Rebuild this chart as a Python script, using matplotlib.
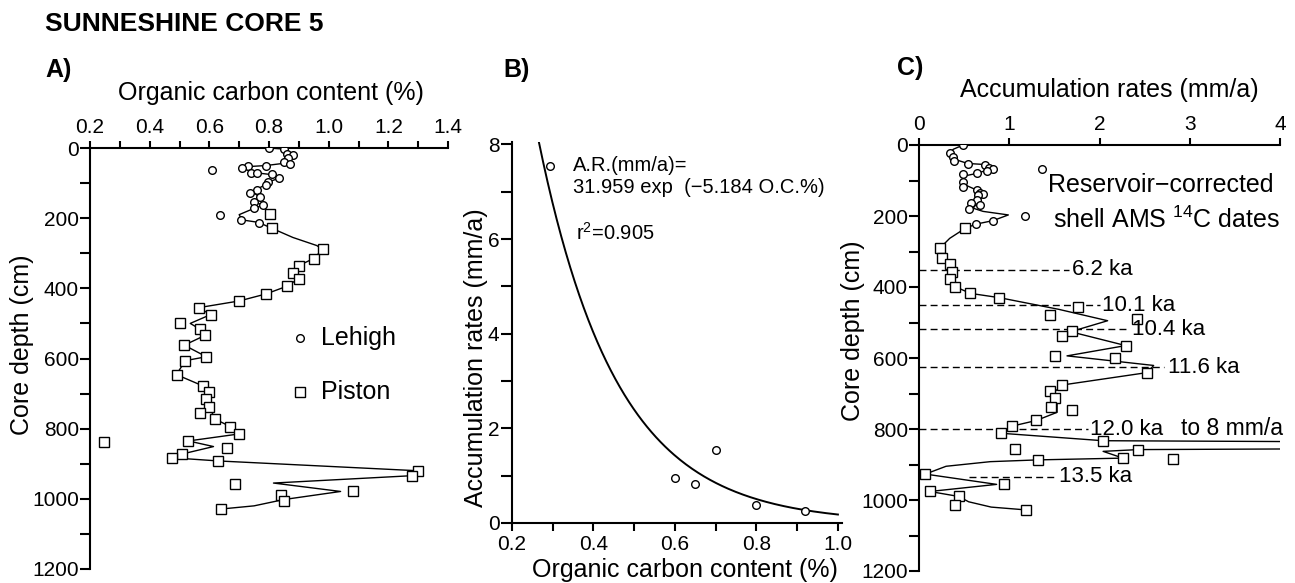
import matplotlib
matplotlib.use("Agg")
import matplotlib.pyplot as plt
import numpy as np

plt.rcParams['font.family'] = ['Liberation Sans', 'DejaVu Sans']
plt.rcParams['mathtext.fontset'] = 'custom'
plt.rcParams['mathtext.rm'] = 'Liberation Sans'
plt.rcParams['mathtext.default'] = 'regular'

# ---- Panel A: organic carbon content vs depth ----
lehigh_a_depth = [0, 2, 17, 20, 29, 40, 46, 51, 52, 58, 63, 72, 72, 75, 86, 96, 105,
                  120, 127, 141, 153, 162, 172, 191, 205, 215]
lehigh_a_oc = [0.80, 0.85, 0.86, 0.88, 0.865, 0.85, 0.87, 0.79, 0.73, 0.71, 0.61, 0.74,
               0.76, 0.81, 0.835, 0.795, 0.79, 0.76, 0.735, 0.77, 0.75, 0.78, 0.75,
               0.635, 0.705, 0.765]
piston_a_depth = [188, 229, 289, 315, 335, 355, 372, 394, 416, 436, 455, 475, 498, 517,
                  534, 562, 595, 606, 646, 678, 695, 716, 739, 754, 773, 794, 815, 835,
                  839, 854, 872, 883, 892, 920, 934, 957, 977, 989, 1007, 1029]
piston_a_oc = [0.805, 0.81, 0.98, 0.95, 0.90, 0.88, 0.90, 0.86, 0.79, 0.70, 0.565, 0.604,
               0.503, 0.57, 0.586, 0.516, 0.59, 0.52, 0.49, 0.578, 0.60, 0.59, 0.60, 0.57,
               0.62, 0.67, 0.70, 0.53, 0.246, 0.66, 0.51, 0.475, 0.63, 1.30, 1.28, 0.686,
               1.08, 0.84, 0.85, 0.64]
# smoothed curve drawn through the profile
curve_a_depth = [0, 3, 17, 30, 42, 50, 53, 60, 70, 76, 86, 96, 108, 125, 141, 155, 163,
                 172, 190, 205, 212, 229, 255, 278, 289, 315, 335, 355, 372, 394, 416,
                 436, 455, 475, 500, 517, 534, 562, 595, 606, 632, 646, 678, 695, 716,
                 739, 773, 794, 815, 835, 851, 872, 883, 892, 920, 934, 955, 979, 1002,
                 1020, 1029]
curve_a_oc = [0.80, 0.85, 0.86, 0.875, 0.865, 0.79, 0.73, 0.72, 0.75, 0.81, 0.835, 0.80,
              0.78, 0.745, 0.77, 0.755, 0.78, 0.75, 0.70, 0.71, 0.765, 0.81, 0.88, 0.96,
              0.98, 0.95, 0.90, 0.88, 0.90, 0.86, 0.79, 0.70, 0.565, 0.604, 0.536, 0.57,
              0.586, 0.516, 0.59, 0.52, 0.50, 0.49, 0.578, 0.60, 0.59, 0.60, 0.62, 0.67,
              0.70, 0.53, 0.614, 0.51, 0.475, 0.63, 1.30, 1.28, 0.815, 1.04, 0.85, 0.75,
              0.64]

# ---- Panel B: accumulation rate vs organic carbon ----
b_oc = [0.60, 0.65, 0.70, 0.80, 0.92]
b_ar = [0.96, 0.82, 1.55, 0.37, 0.25]
fit_a, fit_b = 31.959, 5.184

# ---- Panel C: accumulation rates vs depth ----
lehigh_c_depth = [0, 23, 33, 44, 54, 56, 66, 69, 72, 80, 82, 103, 117, 127, 134, 139,
                  141, 155, 164, 169, 181, 69, 200, 213, 223]
lehigh_c_ar = [0.49, 0.34, 0.38, 0.39, 0.54, 0.73, 0.78, 0.82, 0.75, 0.64, 0.49, 0.49,
               0.49, 0.64, 0.68, 0.71, 0.65, 0.64, 0.58, 0.68, 0.55, 1.36, 1.17, 0.82, 0.63]
piston_c_depth = [235, 291, 319, 335, 357, 378, 399, 418, 430, 455, 479, 491, 523, 538,
                  565, 594, 601, 641, 676, 692, 713, 737, 746, 776, 792, 812, 833, 855,
                  858, 882, 885, 887, 927, 956, 976, 989, 1014, 1028]
piston_c_ar = [0.51, 0.23, 0.25, 0.34, 0.37, 0.34, 0.40, 0.57, 0.89, 1.76, 1.45, 2.41,
               1.69, 1.59, 2.29, 1.51, 2.17, 2.53, 1.59, 1.45, 1.51, 1.46, 1.69, 1.30,
               1.03, 0.91, 2.04, 1.06, 2.43, 2.26, 2.81, 1.32, 0.07, 0.94, 0.12, 0.44,
               0.40, 1.19]
curve_c_depth = [0, 12, 23, 40, 52, 55, 67, 80, 88, 110, 127, 136, 150, 165, 178, 187,
                 197, 213, 223, 235, 263, 291, 319, 335, 357, 380, 399, 418, 430, 463,
                 495, 526, 565, 594, 621, 641, 676, 698, 721, 753, 776, 792, 812, 833,
                 840, 852, 858, 863, 882, 887, 892, 905, 927, 956, 976, 990, 1005, 1020,
                 1028]
curve_c_ar = [0.49, 0.38, 0.34, 0.39, 0.54, 0.73, 0.80, 0.64, 0.49, 0.49, 0.64, 0.70,
              0.62, 0.64, 0.60, 0.71, 0.99, 0.82, 0.63, 0.51, 0.34, 0.23, 0.25, 0.34,
              0.37, 0.35, 0.40, 0.57, 0.89, 1.55, 2.09, 1.68, 2.29, 1.64, 2.60, 2.53,
              1.59, 1.49, 1.53, 1.53, 1.30, 1.03, 0.91, 2.04, 8.0, 8.0, 2.43, 2.04, 2.26,
              1.32, 0.79, 0.30, 0.07, 0.86, 0.12, 0.44, 0.55, 0.80, 1.19]
# AMS 14C dates (depth of dashed line, label)
date_depth = [352, 451, 519, 626, 800, 934]
date_label = ["6.2 ka", "10.1 ka", "10.4 ka", "11.6 ka", "12.0 ka", "13.5 ka"]

# layout helpers (pixel positions of the reference)
W, H = 1295, 583
fig = plt.figure(figsize=(W / 100, H / 100), dpi=100)


def px_axes(left, top, right, bottom):
    return fig.add_axes([left / W, 1 - bottom / H, (right - left) / W, (bottom - top) / H])


def px_text(x, y, s, **kw):
    fig.text(x / W, 1 - y / H, s, **kw)


TICK_FS = 15
LAB_FS = 18
SPINE_LW = 1.5
mk_c = dict(marker='o', ms=5.5, mfc='white', mec='black', mew=1.0, ls='none')
mk_s = dict(marker='s', ms=6.5, mfc='white', mec='black', mew=1.0, ls='none')


def depth_axis(ax):
    for s in ['bottom', 'right']:
        ax.spines[s].set_visible(False)
    for s in ['top', 'left']:
        ax.spines[s].set_linewidth(SPINE_LW)
    ax.set_ylim(1200, 0)
    ax.set_yticks(np.arange(0, 1201, 200))
    ax.set_yticks(np.arange(100, 1200, 200), minor=True)
    ax.xaxis.tick_top()
    ax.tick_params(axis='x', which='both', direction='out', length=5, width=SPINE_LW,
                   pad=3, labelsize=TICK_FS)
    ax.tick_params(axis='y', which='both', direction='out', length=7, width=SPINE_LW,
                   pad=1, labelsize=TICK_FS)


# ---------- Panel A ----------
axA = px_axes(90, 148, 448, 569)
depth_axis(axA)
axA.set_xlim(0.2, 1.4)
axA.set_xticks(np.round(np.arange(0.2, 1.41, 0.2), 1))
axA.set_xticks(np.round(np.arange(0.3, 1.4, 0.2), 1), minor=True)
axA.set_xticklabels([f"{v:.1f}" for v in np.arange(0.2, 1.41, 0.2)])
axA.plot(curve_a_oc, curve_a_depth, color='black', lw=1.0, zorder=2)
axA.plot(lehigh_a_oc, lehigh_a_depth, **mk_c, zorder=3)
axA.plot(piston_a_oc, piston_a_depth, **mk_s, zorder=3)
axA.plot([0.905], [541], **mk_c)
axA.plot([0.905], [695], **mk_s)
axA.text(0.975, 541, "Lehigh", fontsize=LAB_FS, va='center', ha='left')
axA.text(0.975, 695, "Piston", fontsize=LAB_FS, va='center', ha='left')

# ---------- Panel B ----------
axB = px_axes(512, 142, 842, 523)
for s in ['top', 'right']:
    axB.spines[s].set_visible(False)
for s in ['bottom', 'left']:
    axB.spines[s].set_linewidth(SPINE_LW)
axB.set_xlim(0.2, 1.01)
axB.set_ylim(0, 8.05)
axB.set_xticks(np.round(np.arange(0.2, 1.01, 0.2), 1))
axB.set_xticklabels([f"{v:.1f}" for v in np.arange(0.2, 1.01, 0.2)])
axB.set_xticks(np.round(np.arange(0.3, 1.0, 0.2), 1), minor=True)
axB.set_yticks(np.arange(0, 9, 2))
axB.set_yticks(np.arange(1, 8, 2), minor=True)
axB.tick_params(axis='x', which='both', direction='out', length=6, width=SPINE_LW,
                pad=3, labelsize=TICK_FS)
axB.tick_params(axis='y', which='both', direction='out', length=8, width=SPINE_LW,
                pad=1, labelsize=TICK_FS)
x_fit = np.linspace(np.log(fit_a / 8.07) / fit_b, 1.0, 200)
axB.plot(x_fit, fit_a * np.exp(-fit_b * x_fit), color='black', lw=1.4)
axB.plot(b_oc, b_ar, **mk_c)
axB.plot([0.293], [7.55], **mk_c)
axB.text(0.35, 7.55, "A.R.(mm/a)=", fontsize=14.5, va='center', ha='left')
axB.text(0.35, 7.08, "31.959 exp  (\u22125.184 O.C.%)", fontsize=14.5, va='center', ha='left')
axB.text(0.358, 6.13, "r$^{2}$=0.905", fontsize=14.5, va='center', ha='left')

# ---------- Panel C ----------
axC = px_axes(919, 145, 1280, 571)
depth_axis(axC)
axC.set_xlim(0, 4)
axC.set_xticks(np.arange(0, 5, 1))
axC.plot(curve_c_ar, curve_c_depth, color='black', lw=1.0, zorder=2)
axC.plot(lehigh_c_ar, lehigh_c_depth, **mk_c, zorder=3)
axC.plot(piston_c_ar, piston_c_depth, **mk_s, zorder=3)

line_start = [0, 0, 0, 0, 0, 0.55]
line_end = [1.66, 2.0, 2.30, 2.72, 1.87, 1.52]
label_x = [1.70, 2.03, 2.36, 2.76, 1.90, 1.55]
for d, lab, x0, x1, xl in zip(date_depth, date_label, line_start, line_end, label_x):
    axC.plot([x0, x1], [d, d], color='black', lw=1.0, ls=(0, (5, 3)), zorder=1)
    axC.text(xl, d, lab, fontsize=16, va='center', ha='left')
axC.text(2.90, 798, "to 8 mm/a", fontsize=16.5, va='center', ha='left')
axC.text(1.43, 113, "Reservoir\u2212corrected", fontsize=LAB_FS, va='center', ha='left')
axC.text(1.48, 211, "shell AMS $^{14}$C dates", fontsize=LAB_FS, va='center', ha='left')

# ---------- Figure texts ----------
px_text(45, 24, "SUNNESHINE CORE 5", fontsize=19, fontweight='bold', va='center', ha='left')
px_text(45, 70, "A)", fontsize=18, fontweight='bold', va='center', ha='left')
px_text(503, 70, "B)", fontsize=18, fontweight='bold', va='center', ha='left')
px_text(897, 68, "C)", fontsize=18, fontweight='bold', va='center', ha='left')

px_text(271, 93, "Organic carbon content (%)", fontsize=LAB_FS, ha='center', va='center')
px_text(22, 345, "Core depth (cm)", fontsize=LAB_FS, ha='center', va='center', rotation=90)
px_text(476, 358, "Accumulation rates (mm/a)", fontsize=LAB_FS, ha='center', va='center',
        rotation=90)
px_text(685, 570, "Organic carbon content (%)", fontsize=LAB_FS, ha='center', va='center')
px_text(1109, 90, "Accumulation rates (mm/a)", fontsize=LAB_FS, ha='center', va='center')
px_text(853, 331, "Core depth (cm)", fontsize=LAB_FS, ha='center', va='center', rotation=90)

fig.savefig("out.png", dpi=100)
